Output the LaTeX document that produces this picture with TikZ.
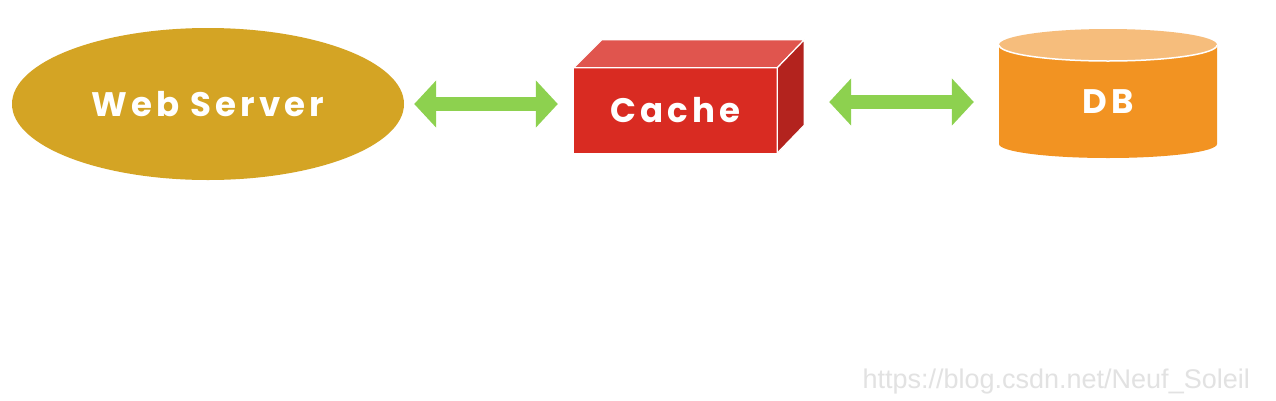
\documentclass[tikz,border=0pt]{standalone}
\usepackage{fontspec}
\setmainfont{Liberation Sans}
\newfontfamily\labelfont{Poppins}[LetterSpace=12]
\usetikzlibrary{arrows.meta,shapes.geometric}
\definecolor{webgold}{HTML}{D4A424}
\definecolor{cachered}{HTML}{D92B22}
\definecolor{cachetop}{HTML}{E0554E}
\definecolor{cacheside}{HTML}{B3231E}
\definecolor{dborange}{HTML}{F29322}
\definecolor{dbtop}{HTML}{F6BD7C}
\definecolor{arrowgreen}{HTML}{8DD14F}
\definecolor{wmgray}{HTML}{E2E2E2}
\begin{document}
\begin{tikzpicture}[x=1pt,y=-1pt,
  lbl/.style={text=white,inner sep=0pt,font=\labelfont\bfseries\fontsize{34}{36}\selectfont},
  dblarrow/.style={draw=arrowgreen,line width=14pt,
    {Triangle[width=46pt,length=22pt]}-{Triangle[width=46pt,length=22pt]}},
  faceedge/.style={draw=white,line width=1.2pt,line join=round}]
\fill[white] (0,0) rectangle (1276,400);
\useasboundingbox (0,0) rectangle (1276,400);
% Web server
\node[lbl, ellipse, fill=webgold, minimum width=392pt, minimum height=152pt] (web) at (208,104) {Web Server};
% Cache box
\node[lbl, rectangle, fill=cachered, minimum width=203pt, minimum height=85pt] (cache) at (675.5,110.5) {Cache};
\path[faceedge, fill=cachetop] (cache.north west) -- ++(28,-28) -- ([shift={(27,-28)}]cache.north east) -- (cache.north east) -- cycle;
\path[faceedge, fill=cacheside] (cache.north east) -- ++(27,-28) -- ([shift={(27,-28)}]cache.south east) -- (cache.south east) -- cycle;
% DB cylinder
\fill[dborange] (999,45) -- (999,144) arc[start angle=180,end angle=360,x radius=109pt,y radius=14pt] -- (1217,45) -- cycle;
\fill[dbtop] (1108,45) ellipse[x radius=109pt,y radius=16pt];
\draw[white,line width=1.5pt] (999,45) arc[start angle=180,end angle=360,x radius=109pt,y radius=16pt];
\node[lbl, minimum width=218pt] (db) at (1108,102) {DB};
% connectors
\draw[dblarrow, shorten <=10pt, shorten >=16pt] (web.east) -- (web.east -| cache.west);
\draw[dblarrow, shorten <=52pt, shorten >=25pt] (db.west -| cache.east) -- (db.west);
% watermark
\node[anchor=base east, inner sep=0pt, text=wmgray, font=\fontsize{27}{29}\selectfont] (wm) at (1250,388) {https://blog.csdn.net/Neuf\_Soleil};
\end{tikzpicture}
\end{document}
